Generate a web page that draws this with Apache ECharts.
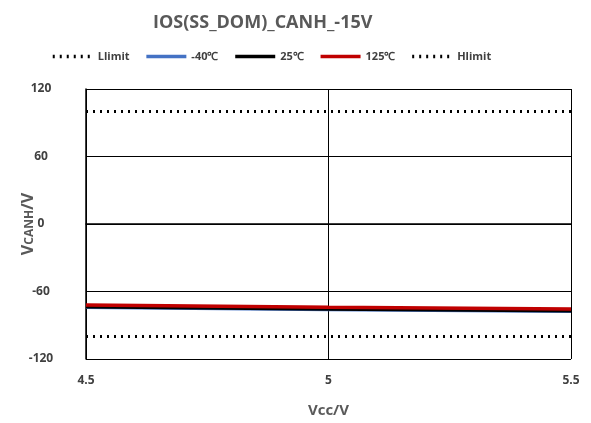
<!DOCTYPE html>
<html>
<head>
<meta charset="utf-8">
<script src="https://cdn.jsdelivr.net/npm/echarts@6/dist/echarts.min.js"></script>
<style>
  html, body { margin: 0; padding: 0; background: #fff; }
  #chart { width: 591px; height: 423px; }
</style>
</head>
<body>
<div id="chart"></div>
<script>
// x values (Vcc/V)
const vcc = [4.5, 5, 5.5]
// measured V_CANH per temperature
const tMinus40 = [-74.5, -76.5, -78]
const t25 = [-74, -76, -77.5]
const t125 = [-72, -74, -75.5]
// limits
const lLimit = [-100, -100, -100]
const hLimit = [100, 100, 100]
const yTicks = [-120, -60, 0, 60, 120]

const pairs = arr => vcc.map((x, i) => [x, arr[i]])

const chart = echarts.init(document.getElementById('chart'))
const font = '"Open Sans", "Liberation Sans", sans-serif'

const option = {
  animation: false,
  title: {
    text: 'IOS(SS_DOM)_CANH_-15V',
    left: 148,
    top: 9,
    textStyle: { fontFamily: font, fontSize: 18, fontWeight: 'bold', color: '#595959' }
  },
  legend: {
    top: 46,
    left: 46,
    itemWidth: 40,
    itemHeight: 10,
    itemGap: 15,
    itemStyle: { opacity: 0 },
    lineStyle: { width: 3.5 },
    textStyle: { fontFamily: font, fontSize: 11, fontWeight: 'bold', color: '#404040' },
    data: ['Llimit', '-40℃', '25℃', '125℃', 'Hlimit']
  },
  grid: { left: 86, right: 20, top: 89, bottom: 64, outerBoundsMode: 'none' },
  xAxis: {
    type: 'value',
    min: 4.5,
    max: 5.5,
    interval: 0.5,
    name: 'Vcc/V',
    nameLocation: 'middle',
    nameGap: 44,
    nameMoveOverlap: false,
    nameTextStyle: { fontFamily: font, fontSize: 15, fontWeight: 'bold', color: '#595959' },
    axisLine: { lineStyle: { color: '#000', width: 1.5 } },
    axisTick: { show: false },
    axisLabel: { fontFamily: font, fontSize: 12, fontWeight: 'bold', color: '#404040', margin: 16 },
    splitLine: { show: true, lineStyle: { color: '#000', width: 1 } }
  },
  yAxis: {
    type: 'value',
    min: yTicks[0],
    max: yTicks[yTicks.length - 1],
    interval: 60,
    name: 'V{sub|CANH}/V',
    nameLocation: 'middle',
    nameGap: 50,
    nameMoveOverlap: false,
    nameTextStyle: {
      fontFamily: font, fontSize: 16, fontWeight: 'bold', color: '#595959',
      rich: { sub: { fontFamily: font, fontSize: 12, fontWeight: 'bold', color: '#595959', verticalAlign: 'bottom', padding: [4, 0, 0, 0] } }
    },
    axisLine: { show: true, lineStyle: { color: '#000', width: 1.5 } },
    axisTick: { show: false },
    axisLabel: { fontFamily: font, fontSize: 12, fontWeight: 'bold', color: '#404040', margin: 45, align: 'center' },
    splitLine: { show: true, lineStyle: { color: '#000', width: 1 } }
  },
  series: [
    {
      name: 'Llimit', type: 'line', data: pairs(lLimit), symbol: 'none',
      lineStyle: { color: '#000', width: 3, type: [2, 5] }, itemStyle: { color: '#000' }
    },
    {
      name: '-40℃', type: 'line', data: pairs(tMinus40), symbol: 'none',
      lineStyle: { color: '#4472c4', width: 2.5 }, itemStyle: { color: '#4472c4' }
    },
    {
      name: '25℃', type: 'line', data: pairs(t25), symbol: 'none',
      lineStyle: { color: '#000', width: 2.5 }, itemStyle: { color: '#000' }
    },
    {
      name: '125℃', type: 'line', data: pairs(t125), symbol: 'none',
      lineStyle: { color: '#c00000', width: 3.5 }, itemStyle: { color: '#c00000' }
    },
    {
      name: 'Hlimit', type: 'line', data: pairs(hLimit), symbol: 'none',
      lineStyle: { color: '#000', width: 3, type: [2, 5] }, itemStyle: { color: '#000' }
    }
  ]
}
chart.setOption(option)
</script>
</body>
</html>
